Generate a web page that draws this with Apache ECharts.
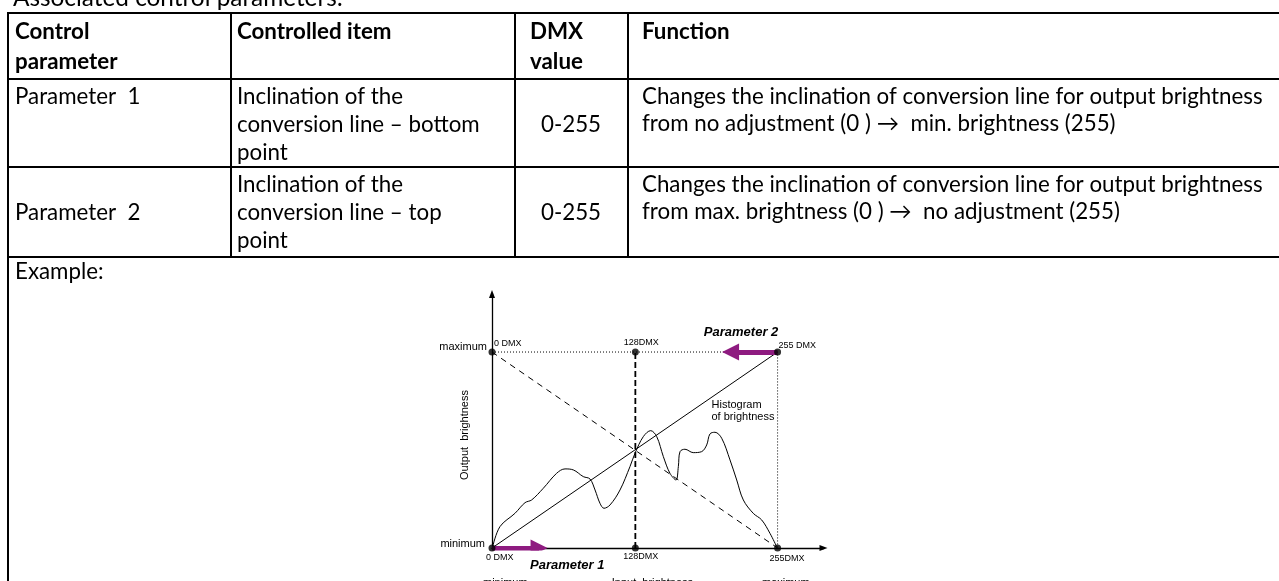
<!DOCTYPE html>
<html><head><meta charset="utf-8">
<script src="https://cdn.jsdelivr.net/npm/echarts@6/dist/echarts.min.js"></script>
<style>html,body{margin:0;padding:0;background:#fff;overflow:hidden}#c{width:1279px;height:581px}</style>
</head><body><div id="c"></div>
<script>
// ---------- data ----------
const titleText = 'Associated control parameters:';
const headerCells = [['Control', 'parameter'], ['Controlled item'], ['DMX', 'value'], ['Function']];
const paramNames = ['Parameter  1', 'Parameter  2'];
const controlledItems = [
  ['Inclination of the', 'conversion line \u2013 bottom', 'point'],
  ['Inclination of the', 'conversion line \u2013 top', 'point']
];
const dmxRanges = ['0-255', '0-255'];
const functionTexts = [
  ['Changes the inclination of conversion line for output brightness', 'from no adjustment (0 ) \u2192  min. brightness (255)'],
  ['Changes the inclination of conversion line for output brightness', 'from max. brightness (0 ) \u2192  no adjustment (255)']
];
const exampleLabel = 'Example:';

// histogram of brightness (input DMX 0-255, height in output units 0-255)
const histX = [0.6, 7.1, 20.5, 29.5, 35.4, 45.8, 57.7, 65.2, 72.6, 81.5, 87.5, 92.0, 96.4, 100.0, 105.4, 114.3, 123.2, 127.7, 135.1, 141.7, 147.1, 153.0, 158.9, 164.3, 166.4, 167.9, 172.3, 179.7, 187.2, 191.7, 194.6, 199.1, 205.1, 212.5, 218.5, 224.4, 233.3, 240.8, 248.2, 254.2];
const histY = [1.7, 27.8, 45.1, 59.0, 62.5, 77.7, 97.2, 102.9, 101.6, 92.9, 89.8, 75.5, 58.2, 51.7, 56.0, 75.5, 105.9, 123.3, 144.9, 152.7, 144.9, 118.9, 97.2, 88.5, 105.9, 125.4, 128.5, 124.1, 125.4, 134.1, 148.4, 150.6, 142.8, 114.6, 88.5, 62.5, 45.1, 36.5, 19.1, 1.7];

const dmxKeys = [0, 128, 255];
const levelKeys = [0, 255];
const bottomDmxLabels = ['0 DMX', '128DMX', '255DMX'];
const topDmxLabels = ['0 DMX', '128DMX', '255 DMX'];
const levelLabels = ['minimum', 'maximum'];
const inputLabels = ['minimum', 'Input  brightness', 'maximum'];
const outputAxisLabel = 'Output  brightness';
const histogramLabel = 'Histogram\nof brightness';
const paramArrowLabels = ['Parameter 1', 'Parameter 2'];
const param1Arrow = [0, 42];    // from, to (DMX) at minimum level
const param2Arrow = [255, 213]; // from, to (DMX) at maximum level

// ---------- helpers ----------
function fitSize(text, font, target) {
  const c = document.createElement('canvas').getContext('2d');
  c.font = font.replace('SIZE', '100px');
  return 100 * target / c.measureText(text).width;
}
const bodyFs = fitSize(functionTexts[0][0], 'SIZE Lato', 621);
const titleFs = fitSize(titleText, 'SIZE Lato', 330);
const purple = '#8E1B80';
const dia = 'Liberation Sans, Arial, sans-serif';

const chart = echarts.init(document.getElementById('c'), null, {renderer: 'canvas'});

const gridLeft = 492, gridTop = 294, gridW = 331.5, gridH = 254;
const pts = [];
dmxKeys.forEach(x => levelKeys.forEach(y => pts.push([x, y])));

chart.setOption({
  animation: false,
  backgroundColor: '#fff',
  grid: {left: gridLeft, top: gridTop, width: gridW, height: gridH, containLabel: false, outerBoundsMode: 'none'},
  xAxis: {type: 'value', min: 0, max: 296, splitLine: {show: false}, axisTick: {show: false}, axisLabel: {show: false},
    axisLine: {show: true, onZero: false, symbol: ['none', 'triangle'], symbolSize: [6, 8], lineStyle: {color: '#000', width: 1.3}}},
  yAxis: {type: 'value', min: 0, max: 330.5, splitLine: {show: false}, axisTick: {show: false}, axisLabel: {show: false},
    axisLine: {show: true, onZero: false, symbol: ['none', 'triangle'], symbolSize: [6, 8], lineStyle: {color: '#000', width: 1.3}}},
  series: [
    {type: 'line', name: 'histogram', data: histX.map((x, i) => [x, histY[i]]), smooth: 0.35, symbol: 'none',
      lineStyle: {color: '#000', width: 1}, z: 3},
    {type: 'line', name: 'conversion', data: [[levelKeys[0], levelKeys[0]], [dmxKeys[2], levelKeys[1]]], symbol: 'none',
      lineStyle: {color: '#000', width: 1}, z: 3},
    {type: 'line', name: 'inverse', data: [[dmxKeys[0], levelKeys[1]], [dmxKeys[2], levelKeys[0]]], symbol: 'none',
      lineStyle: {color: '#000', width: 1, type: [6, 5]}, z: 3},
    {type: 'line', name: 'frame', data: [[dmxKeys[0], levelKeys[1]], [dmxKeys[2], levelKeys[1]], [dmxKeys[2], levelKeys[0]]], symbol: 'none',
      lineStyle: {color: '#000', width: 1, type: [1, 2]}, z: 3},
    {type: 'line', name: 'mid', data: [[dmxKeys[1], levelKeys[0]], [dmxKeys[1], levelKeys[1]]], symbol: 'none',
      lineStyle: {color: '#000', width: 1.8, type: [6, 3]}, z: 3},
    {type: 'lines', coordinateSystem: 'cartesian2d', z: 5,
      data: [{coords: [[param1Arrow[0], levelKeys[0]], [param1Arrow[1], levelKeys[0]]]},
             {coords: [[param2Arrow[0], levelKeys[1]], [param2Arrow[1], levelKeys[1]]]}],
      symbol: ['none', 'triangle'], symbolSize: 17, lineStyle: {color: purple, width: 5, opacity: 1, curveness: 0}},
    {type: 'scatter', data: pts, symbolSize: 7, itemStyle: {color: '#000'}, z: 6}
  ]
});

const P = v => chart.convertToPixel({gridIndex: 0}, v);
const g = [];
// ----- table -----
const colX = [8, 231, 515, 628], rowY = [13, 79, 167, 257], R = 1279, B = 581;
const ln = (x1, y1, x2, y2) => g.push({type: 'line', shape: {x1, y1, x2, y2}, style: {stroke: '#000', lineWidth: 2}, z: 10});
rowY.forEach(y => ln(colX[0] - 1, y, R, y));
ln(colX[0], rowY[0], colX[0], B);
colX.slice(1).forEach(x => ln(x, rowY[0], x, rowY[3]));
const tx = (text, x, y, opt) => g.push({type: 'text', x, y, z: 11, style: Object.assign({
  text, fontFamily: 'Lato', fontSize: bodyFs, fill: '#000', align: 'left', verticalAlign: 'middle'}, opt || {})});

tx(titleText, 13, -2, {fontSize: titleFs});
const hx = [15, 237, 530, 642];
headerCells.forEach((lines, i) => lines.forEach((t, k) => tx(t, hx[i], 32 + k * 30, {fontWeight: 'bold'})));
const rowTop = [rowY[1], rowY[2]];
paramNames.forEach((t, r) => tx(t, hx[0], r === 0 ? rowTop[r] + 18 : rowTop[r] + 46));
controlledItems.forEach((lines, r) => lines.forEach((t, k) => tx(t, hx[1], rowTop[r] + 18 + k * 28)));
dmxRanges.forEach((t, r) => tx(t, 571, rowTop[r] + 46, {align: 'center'}));
functionTexts.forEach((lines, r) => lines.forEach((t, k) => tx(t, hx[3], rowTop[r] + 18 + k * 27)));
tx(exampleLabel, hx[0], 272);

// ----- diagram labels -----
const dt = (text, p, dx, dy, opt) => g.push({type: 'text', x: p[0] + dx, y: p[1] + dy, z: 12, style: Object.assign({
  text, fontFamily: dia, fontSize: 9, fill: '#000', align: 'left', verticalAlign: 'middle'}, opt || {})});
const topOff = [[2, -9, 'left'], [6, -10, 'center'], [1, -7, 'left']];
const botOff = [[-6, 10, 'left'], [5.5, 9, 'center'], [-8, 11, 'left']];
dmxKeys.forEach((x, i) => {
  dt(topDmxLabels[i], P([x, levelKeys[1]]), topOff[i][0], topOff[i][1], {align: topOff[i][2]});
  dt(bottomDmxLabels[i], P([x, levelKeys[0]]), botOff[i][0], botOff[i][1], {align: botOff[i][2]});
});
dt(levelLabels[0], P([0, levelKeys[0]]), -7, -4, {align: 'right', fontSize: 11});
dt(levelLabels[1], P([0, levelKeys[1]]), -5, -5, {align: 'right', fontSize: 11});
const inOff = [-9, -23.6, -15.6];
dmxKeys.forEach((x, i) => dt(inputLabels[i], P([x, 0]), inOff[i], 35, {fontSize: 11}));
dt(paramArrowLabels[0], P([0, 0]), 38, 17, {fontSize: 13, fontWeight: 'bold', fontStyle: 'italic'});
dt(paramArrowLabels[1], P([255, 255]), 0.7, -19.5, {fontSize: 13, fontWeight: 'bold', fontStyle: 'italic', align: 'right'});
dt(histogramLabel, P([196, 186]), 0, 5.8, {fontSize: 11, lineHeight: 11.7});
const op = P([0, 147]);
g.push({type: 'text', x: op[0] - 27, y: op[1], rotation: Math.PI / 2, z: 12, style: {
  text: outputAxisLabel, fontFamily: dia, fontSize: 11, fill: '#000', align: 'center', verticalAlign: 'middle'}});

chart.setOption({graphic: g});
</script></body></html>
